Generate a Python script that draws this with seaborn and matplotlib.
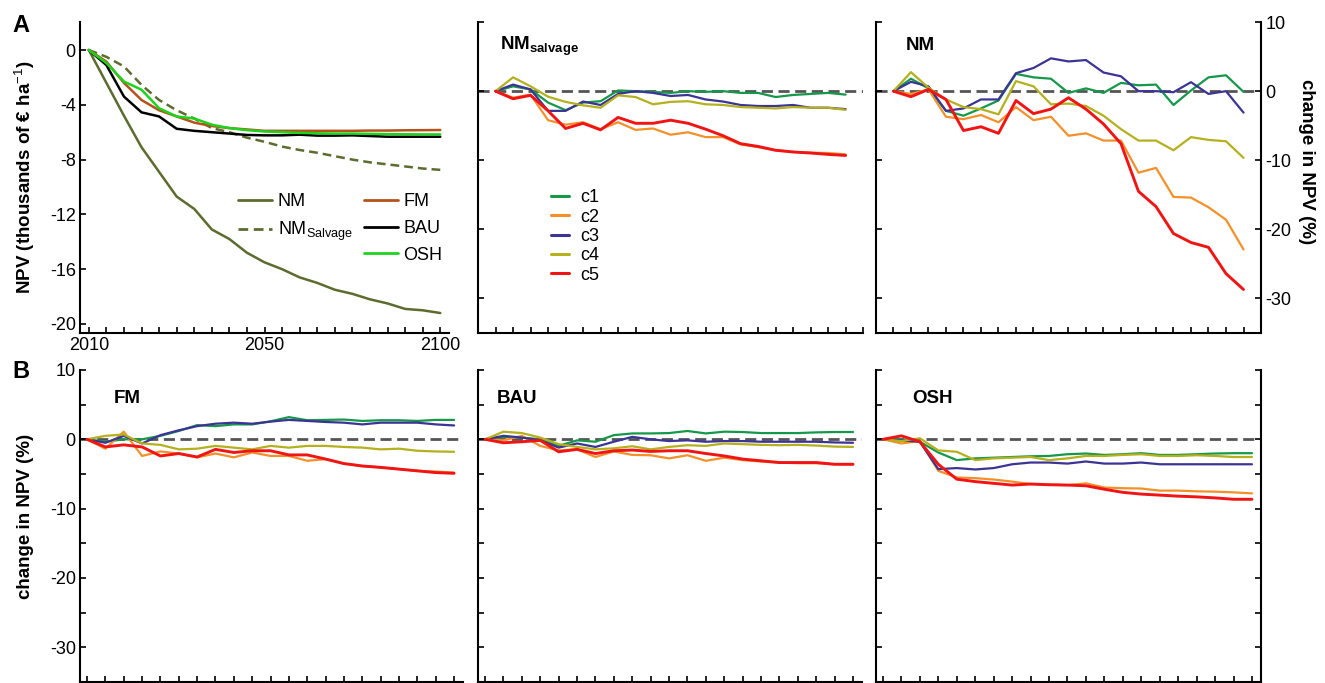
import matplotlib
matplotlib.use('Agg')
import matplotlib.pyplot as plt
from matplotlib.lines import Line2D
import seaborn as sns
import pandas as pd
import numpy as np

# 时间步 (2010-2100, 21 个点)
steps = list(range(21))
year_ticks = [0, 10, 20]
year_labels = ['2010', '2050', '2100']

# A: NPV (thousands of € ha-1)
npv_nm = [0, -2.4, -4.8, -7.1, -8.9, -10.7, -11.6, -13.1, -13.8, -14.8, -15.5,
          -16.0, -16.6, -17.0, -17.5, -17.8, -18.2, -18.5, -18.9, -19.0, -19.2]
npv_nm_salvage = [0, -0.5, -1.2, -2.55, -3.65, -4.4, -5.0, -5.7, -6.0, -6.4, -6.7,
                  -7.05, -7.3, -7.5, -7.75, -8.0, -8.2, -8.35, -8.5, -8.65, -8.75]
npv_fm = [0, -0.85, -2.4, -3.65, -4.4, -4.85, -5.3, -5.55, -5.7, -5.8, -5.9,
          -5.9, -5.9, -5.9, -5.9, -5.9, -5.88, -5.88, -5.86, -5.85, -5.84]
npv_bau = [0, -1.1, -3.4, -4.55, -4.85, -5.75, -5.9, -6.0, -6.1, -6.2, -6.23,
           -6.23, -6.18, -6.25, -6.25, -6.23, -6.28, -6.33, -6.33, -6.33, -6.33]
npv_osh = [0, -0.95, -2.3, -2.9, -4.25, -4.85, -5.0, -5.45, -5.7, -5.85, -5.95,
           -6.0, -6.05, -6.08, -6.1, -6.1, -6.12, -6.14, -6.15, -6.16, -6.16]

# change in NPV (%), climate scenarios c1..c5
nms_c1 = [0, 0.7, 0.25, -1.65, -2.75, -1.65, -1.45, 0.1, 0, -0.1, -0.25, 0, -0.1, 0, -0.25, -0.25, -0.85, -0.55, -0.4, -0.25, -0.5]
nms_c2 = [0, -0.95, -0.5, -4.2, -4.85, -4.5, -5.5, -4.5, -5.6, -5.4, -6.3, -5.95, -6.65, -6.65, -7.7, -8.1, -8.55, -8.8, -8.9, -8.95, -9.15]
nms_c3 = [0, 0.95, 0.25, -2.85, -2.85, -1.5, -2.0, -0.4, 0, -0.25, -0.7, -0.55, -1.2, -1.5, -2.0, -2.15, -2.15, -2.0, -2.4, -2.4, -2.6]
nms_c4 = [0, 2.0, 0.7, -0.8, -1.55, -2.05, -2.4, -0.6, -0.85, -1.9, -1.55, -1.45, -1.9, -2.0, -2.3, -2.4, -2.5, -2.3, -2.4, -2.4, -2.7]
nms_c5 = [0, -1.1, -0.6, -2.85, -5.4, -4.65, -5.6, -3.8, -4.65, -4.65, -4.2, -4.65, -5.5, -6.45, -7.6, -8.0, -8.55, -8.8, -8.95, -9.15, -9.3]

nm_c1 = [0, 1.8, 0.4, -2.85, -3.55, -2.5, -1.35, 2.5, 2.0, 1.8, -0.25, 0.4, -0.25, 1.2, 0.85, 0.95, -2.0, 0.1, 2.0, 2.3, -0.1]
nm_c2 = [0, -0.4, 0.25, -3.7, -4.05, -3.45, -4.5, -2.3, -4.2, -3.7, -6.45, -6.1, -7.15, -7.15, -11.8, -11.1, -15.3, -15.4, -16.8, -18.6, -22.9]
nm_c3 = [0, 1.35, 0.7, -2.85, -2.5, -1.2, -1.2, 2.6, 3.35, 4.75, 4.3, 4.5, 2.7, 2.15, 0, 0, -0.15, 1.3, -0.4, 0, -3.1]
nm_c4 = [0, 2.75, 0.5, -1.2, -2.3, -2.6, -3.35, 1.45, 0.7, -1.9, -1.8, -2.15, -3.55, -5.5, -7.15, -7.15, -8.55, -6.65, -7.05, -7.25, -9.65]
nm_c5 = [0, -0.8, 0.25, -1.2, -5.7, -5.15, -6.1, -1.35, -3.25, -2.6, -0.95, -2.6, -4.75, -7.6, -14.5, -16.7, -20.6, -21.9, -22.6, -26.4, -28.7]

fm_c1 = [0, -0.35, 0, 0, 0.5, 1.2, 2.05, 1.9, 2.15, 2.15, 2.6, 3.2, 2.75, 2.8, 2.85, 2.65, 2.75, 2.75, 2.65, 2.8, 2.8]
fm_c2 = [0, -1.35, 1.1, -2.4, -1.75, -2.05, -2.6, -2.05, -2.6, -1.9, -2.4, -2.4, -3.1, -2.85, -3.5, -3.85, -4.05, -4.3, -4.55, -4.65, -4.8]
fm_c3 = [0, -0.5, 0.5, -0.6, 0.6, 1.3, 1.9, 2.25, 2.4, 2.25, 2.55, 2.8, 2.65, 2.5, 2.4, 2.15, 2.4, 2.4, 2.4, 2.15, 2.0]
fm_c4 = [0, 0.5, 0.7, -0.6, -0.8, -1.45, -1.35, -0.95, -1.2, -1.45, -0.95, -1.2, -0.95, -0.95, -1.1, -1.2, -1.45, -1.35, -1.65, -1.75, -1.8]
fm_c5 = [0, -1.1, -0.8, -1.1, -2.4, -2.05, -2.55, -1.45, -1.9, -1.65, -1.65, -2.25, -2.25, -2.85, -3.5, -3.85, -4.05, -4.3, -4.55, -4.8, -4.9]

bau_c1 = [0, 0.35, 0.25, 0, -0.95, -0.15, -0.35, 0.6, 0.85, 0.85, 0.9, 1.2, 0.85, 1.1, 1.05, 0.9, 0.9, 0.9, 1.0, 1.05, 1.05]
bau_c2 = [0, -0.15, 0.5, -0.95, -1.6, -1.45, -2.55, -1.75, -2.25, -2.3, -2.75, -2.3, -3.1, -2.65, -3.0, -3.2, -3.35, -3.45, -3.45, -3.6, -3.6]
bau_c3 = [0, 0.5, 0.25, -0.15, -1.2, -0.6, -1.1, -0.35, 0.35, 0, -0.25, -0.15, -0.35, -0.25, -0.25, -0.35, -0.35, -0.35, -0.35, -0.45, -0.5]
bau_c4 = [0, 1.1, 0.9, 0.25, -0.7, -1.1, -1.45, -1.3, -1.0, -1.45, -1.1, -0.85, -0.95, -0.6, -0.7, -0.8, -0.85, -0.8, -0.9, -1.05, -1.1]
bau_c5 = [0, -0.5, -0.35, -0.15, -1.8, -1.45, -2.05, -1.65, -1.55, -1.75, -1.65, -1.65, -2.05, -2.4, -2.85, -3.1, -3.35, -3.35, -3.35, -3.6, -3.6]

osh_c1 = [0, 0, -0.35, -1.9, -3.0, -2.75, -2.65, -2.55, -2.45, -2.4, -2.15, -2.05, -2.25, -2.15, -2.0, -2.25, -2.25, -2.15, -2.05, -2.0, -2.0]
osh_c2 = [0, -0.6, -0.25, -4.55, -5.5, -5.6, -5.8, -6.1, -6.45, -6.55, -6.6, -6.35, -6.95, -7.05, -7.1, -7.4, -7.4, -7.5, -7.55, -7.65, -7.8]
osh_c3 = [0, -0.15, -0.35, -4.3, -4.15, -4.35, -4.15, -3.6, -3.35, -3.35, -3.5, -3.2, -3.5, -3.5, -3.35, -3.6, -3.6, -3.6, -3.6, -3.6, -3.6]
osh_c4 = [0, -0.25, 0.15, -1.6, -1.8, -3.0, -2.75, -2.65, -2.55, -3.0, -2.75, -2.4, -2.4, -2.25, -2.15, -2.4, -2.4, -2.3, -2.4, -2.55, -2.55]
osh_c5 = [0, 0.5, -0.35, -3.6, -5.75, -6.1, -6.35, -6.6, -6.45, -6.55, -6.6, -6.7, -7.2, -7.65, -7.9, -8.05, -8.2, -8.3, -8.45, -8.65, -8.65]

strategies = ['NM', 'NM_salvage', 'FM', 'BAU', 'OSH']
strategy_colors = ['#5c6b2e', '#5c6b2e', '#b5521b', '#000000', '#1ed31e']
climates = ['c1', 'c2', 'c3', 'c4', 'c5']
climate_colors = ['#15984a', '#f3902a', '#3c3494', '#b4b01e', '#f01414']
climate_widths = [1.6, 1.6, 1.6, 1.6, 2.1]

sns.set_style('ticks', {'axes.edgecolor': 'black', 'xtick.color': 'black',
                        'ytick.color': 'black', 'text.color': 'black',
                        'axes.labelcolor': 'black'})
plt.rcParams['font.family'] = ['Liberation Sans', 'DejaVu Sans']
plt.rcParams['mathtext.fontset'] = 'custom'
plt.rcParams['mathtext.rm'] = 'Liberation Sans'
plt.rcParams['mathtext.bf'] = 'Liberation Sans:bold'
plt.rcParams['axes.unicode_minus'] = False
plt.rcParams['axes.linewidth'] = 1.5
plt.rcParams['xtick.direction'] = 'in'
plt.rcParams['ytick.direction'] = 'in'


def long_df(series, names):
    frames = [pd.DataFrame({'step': steps, 'value': v, 'run': n}) for n, v in zip(names, series)]
    return pd.concat(frames, ignore_index=True)


def climate_panel(ax, series, title, title_x, title_y):
    df = long_df(series, climates)
    sns.lineplot(data=df, x='step', y='value', hue='run', size='run',
                 palette=dict(zip(climates, climate_colors)),
                 sizes=dict(zip(climates, climate_widths)),
                 legend=False, ax=ax)
    ax.axhline(0, color='#555555', lw=2, ls=(0, (4, 2)), zorder=0)
    ax.set_ylim(-35, 10)
    ax.set_xlabel('')
    ax.set_ylabel('')
    ax.tick_params(axis='both', length=4, width=1.2, labelsize=13, pad=3)
    ax.set_xticks(range(0, 22) if ax.get_xlim()[1] > 20.6 else range(0, 21))
    ax.set_xticklabels([])
    ax.text(title_x, title_y, title, transform=ax.transAxes, fontsize=13.5,
            fontweight='bold', va='baseline')
    sns.despine(ax=ax)


fig = plt.figure(figsize=(13.25, 6.83), dpi=100)

# --- A: NPV ---
ax_a = fig.add_axes([0.0604, 0.5124, 0.2785, 0.4553])
df_a = long_df([npv_nm, npv_nm_salvage, npv_fm, npv_bau, npv_osh], strategies)
sns.lineplot(data=df_a, x='step', y='value', hue='run', style='run',
             palette=dict(zip(strategies, strategy_colors)),
             dashes={'NM': '', 'NM_salvage': (3.5, 2), 'FM': '', 'BAU': '', 'OSH': ''},
             hue_order=['NM', 'NM_salvage', 'BAU', 'FM', 'OSH'],
             linewidth=1.8, legend=False, ax=ax_a)
ax_a.set_xlim(-0.5, 20.5)
ax_a.set_ylim(-20.66, 2.04)
ax_a.set_yticks([0, -4, -8, -12, -16, -20])
ax_a.set_xticks(year_ticks)
ax_a.set_xticklabels(year_labels)
ax_a.set_xticks(steps, minor=True)
ax_a.tick_params(axis='both', which='major', length=4, width=1.2, labelsize=13, pad=3)
ax_a.tick_params(axis='x', which='minor', length=4, width=1.2)
ax_a.set_xlabel('')
ax_a.set_ylabel('NPV (thousands of € ha$^{-1}$)', fontsize=13.5, fontweight='bold')
ax_a.yaxis.set_label_coords(-0.117, 0.5)
sns.despine(ax=ax_a)

handles = [Line2D([], [], color=strategy_colors[0], lw=2),
           Line2D([], [], color=strategy_colors[1], lw=2, ls=(0, (3.5, 2))),
           Line2D([], [], color='none'),
           Line2D([], [], color=strategy_colors[2], lw=2),
           Line2D([], [], color=strategy_colors[3], lw=2),
           Line2D([], [], color=strategy_colors[4], lw=2)]
labels = ['NM', r'NM$_{\mathrm{Salvage}}$', '', 'FM', 'BAU', 'OSH']
ax_a.legend(handles, labels, ncol=2, frameon=False, fontsize=13,
            loc='upper left', bbox_to_anchor=(0.428, 0.449), borderaxespad=0,
            borderpad=0, handlelength=1.9, handletextpad=0.3,
            labelspacing=0.53, columnspacing=0.6)

# --- A: NM salvage ---
ax_ns = fig.add_axes([0.3608, 0.5124, 0.2906, 0.4553])
ax_ns.set_xlim(-1, 21)
climate_panel(ax_ns, [nms_c1, nms_c2, nms_c3, nms_c4, nms_c5],
              r'$\mathbf{NM}_{\mathbf{salvage}}$', 0.057, 0.91)
ax_ns.set_yticks([10, 0, -10, -20, -30])
ax_ns.set_yticklabels([])
c_handles = [Line2D([], [], color=c, lw=2.2) for c in climate_colors]
ax_ns.legend(c_handles, climates, frameon=False, fontsize=13,
             loc='upper left', bbox_to_anchor=(0.19, 0.462), borderaxespad=0,
             borderpad=0, handlelength=1.0, handletextpad=0.6, labelspacing=0.13)

# --- A: NM ---
ax_nm = fig.add_axes([0.6611, 0.5124, 0.2906, 0.4553])
ax_nm.set_xlim(-1, 21)
climate_panel(ax_nm, [nm_c1, nm_c2, nm_c3, nm_c4, nm_c5], 'NM', 0.078, 0.91)
ax_nm.spines['right'].set_visible(True)
ax_nm.set_yticks([10, 0, -10, -20, -30])
ax_nm.tick_params(axis='y', right=True, labelright=True, labelleft=False)
fig.text(1306 / 1325, 1 - 162 / 683, 'change in NPV (%)', fontsize=13.5,
         fontweight='bold', rotation=270, ha='center', va='center')

# --- B ---
b_pos = [[0.0604, 0.0015, 0.2891, 0.4568],
         [0.3608, 0.0015, 0.2898, 0.4568],
         [0.6611, 0.0015, 0.2906, 0.4568]]
b_series = [[fm_c1, fm_c2, fm_c3, fm_c4, fm_c5],
            [bau_c1, bau_c2, bau_c3, bau_c4, bau_c5],
            [osh_c1, osh_c2, osh_c3, osh_c4, osh_c5]]
b_titles = ['FM', 'BAU', 'OSH']
b_title_x = [0.087, 0.048, 0.095]
for k in range(3):
    ax = fig.add_axes(b_pos[k])
    ax.set_xlim(-0.38, 20.49)
    climate_panel(ax, b_series[k], b_titles[k], b_title_x[k], 0.894)
    ax.set_yticks([10, 0, -10, -20, -30])
    ax.set_yticks([5, -5, -15, -25, -35], minor=True)
    ax.tick_params(axis='y', which='minor', length=4, width=1.2)
    if k == 0:
        ax.set_ylabel('change in NPV (%)', fontsize=13.5, fontweight='bold')
        ax.yaxis.set_label_coords(-0.12, 0.53)
    else:
        ax.set_yticklabels([])
    if k == 2:
        ax.spines['right'].set_visible(True)
        ax.tick_params(axis='y', which='both', right=True)

fig.text(0.009, 1 - 25 / 683, 'A', fontsize=17, fontweight='bold', va='center')
fig.text(0.009, 1 - 372 / 683, 'B', fontsize=17, fontweight='bold', va='center')

fig.savefig('out.png', dpi=100)
